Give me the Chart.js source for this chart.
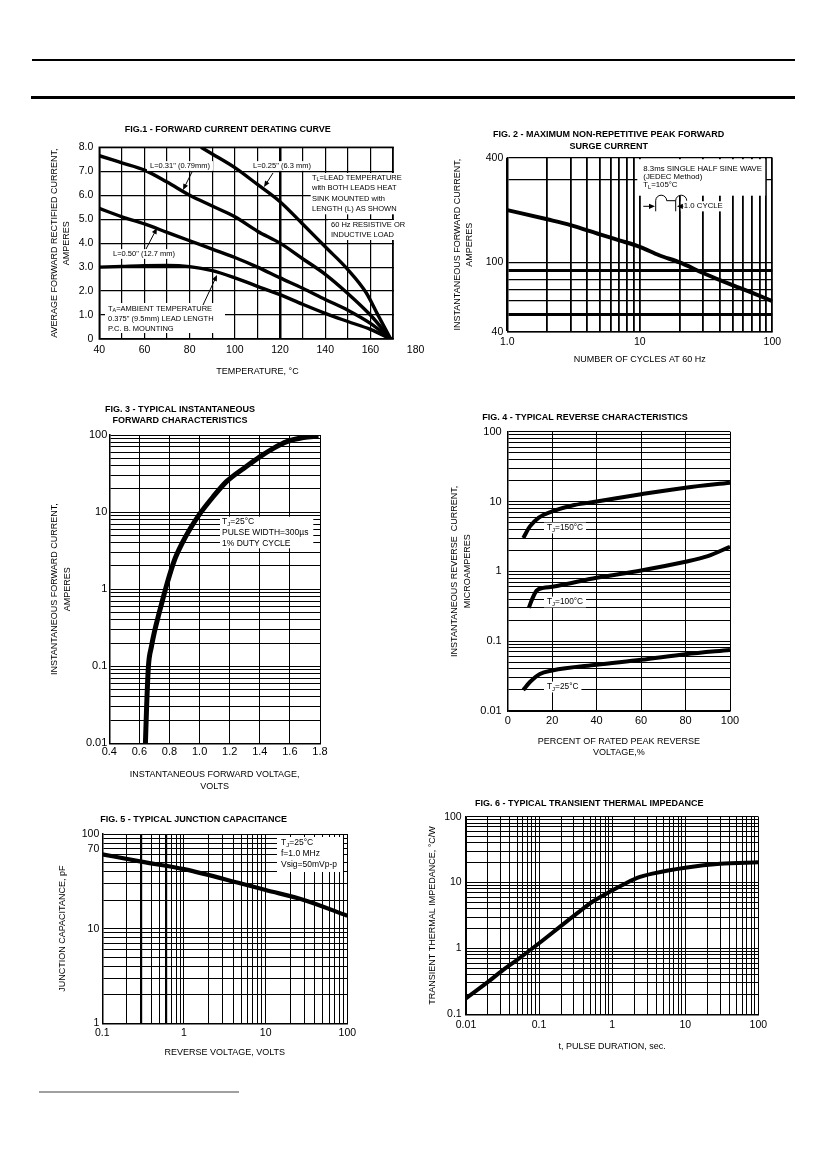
<!DOCTYPE html>
<html><head><meta charset="utf-8">
<script src="https://cdn.jsdelivr.net/npm/chart.js@4.4.1/dist/chart.umd.min.js"></script>
<style>
html,body{margin:0;padding:0;background:#fff;overflow:hidden;}
#page{position:relative;width:826px;height:1169px;overflow:hidden;background:#fff;}
#page canvas{position:absolute;}
.rule{position:absolute;}
</style></head><body>
<div id="page">
<div class="rule" style="left:32px;top:59px;width:763px;height:2px;background:#000"></div>
<div class="rule" style="left:31px;top:96px;width:764px;height:3px;background:#000"></div>
<div class="rule" style="left:39px;top:1091px;width:200px;height:2px;background:#a0a0a0"></div>
</div>
<script>
// ================= DATA =================
// Fig.1 - forward current derating curve
const fig1XTicks = [40, 60, 80, 100, 120, 140, 160, 180];
const fig1XTickLabels = ['40', '60', '80', '100', '120', '140', '160', '180'];
const fig1XGrid = [40, 50, 60, 70, 80, 90, 100, 110, 120, 130, 140, 150, 160, 170, 180];
const fig1YTicks = [0, 1, 2, 3, 4, 5, 6, 7, 8];
const fig1YTickLabels = ['0', '1.0', '2.0', '3.0', '4.0', '5.0', '6.0', '7.0', '8.0'];
const fig1FrameEnd = 170;
const fig1L025Temp = [85, 90, 100, 110, 120, 130, 140, 150, 158, 163, 169];
const fig1L025Amps = [8.0, 7.72, 7.15, 6.45, 5.73, 4.8, 3.85, 2.9, 1.95, 1.06, 0.0];
const fig1L031Temp = [40, 50, 60, 70, 80, 90, 100, 110, 120, 130, 140, 150, 160, 169];
const fig1L031Amps = [7.65, 7.35, 7.05, 6.55, 6.0, 5.55, 5.1, 4.5, 4.0, 3.35, 2.7, 1.9, 1.0, 0.0];
const fig1L050Temp = [40, 50, 60, 70, 80, 90, 100, 110, 120, 130, 140, 150, 160, 169];
const fig1L050Amps = [5.45, 5.1, 4.8, 4.45, 4.1, 3.75, 3.4, 3.0, 2.55, 2.12, 1.65, 1.2, 0.65, 0.0];
const fig1AmbTemp = [40, 50, 60, 70, 80, 90, 100, 110, 120, 130, 140, 150, 160, 169];
const fig1AmbAmps = [3.0, 3.03, 3.06, 3.07, 3.02, 2.85, 2.55, 2.2, 1.85, 1.45, 1.07, 0.73, 0.4, 0.0];

// Fig.2 - maximum non-repetitive peak forward surge current
const fig2XTicks = [1, 10, 100];
const fig2XTickLabels = ['1.0', '10', '100'];
const fig2YTicks = [40, 100, 400];
const fig2YTickLabels = ['40', '100', '400'];
const fig2YGrid = [40, 50, 60, 70, 80, 90, 100, 300, 400];
const fig2Cycles = [1, 2, 3, 5, 7, 10, 14, 20, 30, 50, 70, 100];
const fig2Amps = [200, 177, 164, 145, 134, 123, 110, 100, 87, 74, 67, 60];

// Fig.3 - typical instantaneous forward characteristics
const fig3XTicks = [0.4, 0.6, 0.8, 1.0, 1.2, 1.4, 1.6, 1.8];
const fig3XTickLabels = ['0.4', '0.6', '0.8', '1.0', '1.2', '1.4', '1.6', '1.8'];
const fig3YTicks = [0.01, 0.1, 1, 10, 100];
const fig3YTickLabels = ['0.01', '0.1', '1', '10', '100'];
const fig3Volts = [0.640, 0.648, 0.660, 0.680, 0.700, 0.730, 0.760, 0.790, 0.830, 0.880, 0.940, 1.00, 1.09, 1.18, 1.31, 1.40, 1.49, 1.58, 1.69, 1.79];
const fig3Amps = [0.01, 0.03, 0.1, 0.18, 0.28, 0.48, 0.8, 1.3, 2.3, 3.8, 6.2, 9.4, 15.8, 25, 39, 52, 67, 82, 93, 97];

// Fig.4 - typical reverse characteristics
const fig4XTicks = [0, 20, 40, 60, 80, 100];
const fig4XTickLabels = ['0', '20', '40', '60', '80', '100'];
const fig4YTicks = [0.01, 0.1, 1, 10, 100];
const fig4YTickLabels = ['0.01', '0.1', '1', '10', '100'];
const fig4Pct150 = [7, 10, 14, 20, 30, 40, 60, 80, 100];
const fig4Tj150 = [3.0, 4.4, 5.9, 7.2, 8.9, 10, 12.7, 15.8, 18.6];
const fig4Pct100 = [9.5, 11, 13, 16, 20, 40, 60, 80, 90, 100];
const fig4Tj100 = [0.3, 0.4, 0.53, 0.58, 0.6, 0.81, 1.03, 1.37, 1.65, 2.25];
const fig4Pct25 = [7, 10, 14.5, 20, 40, 60, 80, 100];
const fig4Tj25 = [0.02, 0.026, 0.034, 0.038, 0.046, 0.054, 0.065, 0.075];

// Fig.5 - typical junction capacitance
const fig5XTicks = [0.1, 1, 10, 100];
const fig5XTickLabels = ['0.1', '1', '10', '100'];
const fig5YTicks = [1, 10, 70, 100];
const fig5YTickLabels = ['1', '10', '70', '100'];
const fig5Volts = [0.1, 0.3, 1, 5, 10, 30, 100];
const fig5Cap = [61, 51, 42.5, 30, 25.6, 20, 13.7];

// Fig.6 - typical transient thermal impedance
const fig6XTicks = [0.01, 0.1, 1, 10, 100];
const fig6XTickLabels = ['0.01', '0.1', '1', '10', '100'];
const fig6YTicks = [0.1, 1, 10, 100];
const fig6YTickLabels = ['0.1', '1', '10', '100'];
const fig6Time = [0.01, 0.02, 0.032, 0.05, 0.1, 0.2, 0.33, 0.55, 1, 1.5, 2.2, 3.7, 10, 30, 100];
const fig6Z = [0.175, 0.31, 0.47, 0.67, 1.2, 2.2, 3.4, 5.2, 7.6, 9.6, 11.8, 13.8, 16.8, 19.3, 20.3];

// ================= HELPERS =================
const FONT = "'Liberation Sans', Arial, Helvetica, sans-serif";
const zip = (xs, ys) => xs.map((x, i) => ({x: x, y: ys[i]}));
function logGrid(min, max) {
  const out = [];
  let e = Math.floor(Math.log10(min) + 1e-9);
  for (let guard = 0; guard < 20; guard++, e++) {
    for (let m = 1; m < 10; m++) {
      const v = parseFloat((m * Math.pow(10, e)).toPrecision(6));
      if (v < min * (1 - 1e-9)) continue;
      if (v > max * (1 + 1e-9)) return out;
      out.push(v);
    }
  }
  return out;
}
function labeler(vals, labs) {
  return v => {
    for (let i = 0; i < vals.length; i++) {
      if (Math.abs(v - vals[i]) <= 1e-9 * Math.max(1e-6, Math.abs(vals[i]))) return labs[i];
    }
    return '';
  };
}
function axis(o) {
  const lab = labeler(o.tickVals, o.tickLabels);
  return {
    type: o.type, position: o.pos, min: o.min, max: o.max,
    afterBuildTicks: s => { s.ticks = o.grid.map(v => ({value: v})); },
    afterFit: s => { if (o.pos === 'left') s.width = o.size; else s.height = o.size; },
    ticks: {autoSkip: false, maxRotation: 0, minRotation: 0, padding: o.tickPad, color: '#000',
      font: {family: FONT, size: o.fs}, callback: v => lab(v), major: {enabled: false}},
    grid: {drawTicks: false,
      color: c => (o.gc ? o.gc(c.tick ? c.tick.value : null) : '#000'),
      lineWidth: c => (o.gw ? o.gw(c.tick ? c.tick.value : null) : 1)},
    border: {display: o.border !== false, color: '#000', width: 1.5},
    title: {display: true, text: o.title, color: '#000',
      font: {family: FONT, size: o.titleFs, lineHeight: o.titleLh / o.titleFs},
      padding: {top: o.titlePad, bottom: o.titlePad}}
  };
}
function segs(t) {
  const out = []; let buf = '';
  for (let i = 0; i < t.length; i++) {
    if (t[i] === '_' && i + 1 < t.length) {
      if (buf) { out.push([buf, false]); buf = ''; }
      out.push([t[i + 1], true]); i++;
    } else buf += t[i];
  }
  if (buf) out.push([buf, false]);
  return out;
}
function richWidth(ctx, t, fs) {
  let w = 0;
  for (const [s, sub] of segs(t)) { ctx.font = (sub ? fs * 0.72 : fs) + 'px ' + FONT; w += ctx.measureText(s).width; }
  return w;
}
function drawRich(ctx, t, x, y, fs) {
  for (const [s, sub] of segs(t)) {
    const f = sub ? fs * 0.72 : fs;
    ctx.font = f + 'px ' + FONT;
    ctx.fillText(s, x, y + (sub ? fs * 0.25 : 0));
    x += ctx.measureText(s).width;
  }
}
function notesPlugin(list) {
  return {
    id: 'notes',
    afterDatasetsDraw(chart) {
      const ctx = chart.ctx, a = chart.chartArea;
      const X = d => a.left + d, Y = d => a.top + d;
      let fs = 8, dx = 0;
      ctx.save();
      ctx.textBaseline = 'middle'; ctx.textAlign = 'left';
      for (const it of list) {
        if (it.box) {
          ctx.fillStyle = '#fff';
          ctx.fillRect(X(it.box[0]), Y(it.box[1]), it.box[2] - it.box[0], it.box[3] - it.box[1]);
        } else if (it.text !== undefined) {
          if (it.fs) fs = it.fs;
          if (it.dx !== undefined) dx = it.dx;
          const x = X(dx), y = Y(it.dy);
          if (it.bg) {
            const w = richWidth(ctx, it.text, fs);
            ctx.fillStyle = '#fff';
            ctx.fillRect(x - 3, y - fs * 0.65, w + 6, fs * 1.3);
          }
          ctx.fillStyle = '#000';
          drawRich(ctx, it.text, x, y, fs);
        } else if (it.arrow) {
          const [x0, y0, x1, y1] = it.arrow.map((v, i) => (i % 2 ? Y(v) : X(v)));
          const ang = Math.atan2(y1 - y0, x1 - x0), hl = 6, hw = 2.6;
          ctx.strokeStyle = '#000'; ctx.lineWidth = 1;
          ctx.beginPath(); ctx.moveTo(x0, y0); ctx.lineTo(x1 - Math.cos(ang) * hl * 0.8, y1 - Math.sin(ang) * hl * 0.8); ctx.stroke();
          ctx.fillStyle = '#000';
          ctx.beginPath();
          ctx.moveTo(x1, y1);
          ctx.lineTo(x1 - Math.cos(ang) * hl - Math.sin(ang) * hw, y1 - Math.sin(ang) * hl + Math.cos(ang) * hw);
          ctx.lineTo(x1 - Math.cos(ang) * hl + Math.sin(ang) * hw, y1 - Math.sin(ang) * hl - Math.cos(ang) * hw);
          ctx.closePath(); ctx.fill();
        } else if (it.line) {
          ctx.strokeStyle = '#000'; ctx.lineWidth = 1;
          ctx.beginPath(); ctx.moveTo(X(it.line[0]), Y(it.line[1])); ctx.lineTo(X(it.line[2]), Y(it.line[3])); ctx.stroke();
        } else if (it.hump) {
          const [x0, x1, base, peak] = it.hump;
          ctx.strokeStyle = '#000'; ctx.lineWidth = 1;
          ctx.beginPath();
          ctx.ellipse((X(x0) + X(x1)) / 2, Y(base), (x1 - x0) / 2, base - peak, 0, Math.PI, 2 * Math.PI);
          ctx.stroke();
        }
      }
      ctx.restore();
    }
  };
}
const fig1FramePlugin = {
  id: 'fig1Frame',
  beforeDatasetsDraw(chart) {
    const ctx = chart.ctx, a = chart.chartArea;
    const xr = chart.scales.x.getPixelForValue(fig1FrameEnd);
    ctx.save();
    ctx.fillStyle = '#fff';
    ctx.fillRect(xr + 1, a.top - 2, a.right - xr + 2, a.bottom - a.top + 4);
    ctx.strokeStyle = '#000'; ctx.lineWidth = 1.5;
    ctx.strokeRect(a.left, a.top, xr - a.left, a.bottom - a.top);
    ctx.restore();
  }
};
function buildChart(id, L) {
  const c = document.createElement('canvas');
  const [cl, ct, cr, cb] = L.box;
  c.id = id; c.width = cr - cl; c.height = cb - ct;
  c.style.left = cl + 'px'; c.style.top = ct + 'px';
  document.getElementById('page').appendChild(c);
  return new Chart(c, {
    type: 'line',
    data: {datasets: L.datasets.map(d => ({label: d.label, data: d.data, borderColor: '#000', borderWidth: d.w,
      pointRadius: 0, fill: false, cubicInterpolationMode: 'monotone', borderCapStyle: 'butt', borderJoinStyle: 'round'}))},
    options: {
      responsive: false, animation: false, events: [],
      layout: {padding: {left: 0, top: 0, bottom: 0, right: cr - L.plotR}},
      plugins: {
        legend: {display: false}, tooltip: {enabled: false},
        title: {display: true, text: L.title, color: '#000', fullSize: true,
          font: {family: FONT, size: L.titleFs, weight: 'bold', lineHeight: L.titleLh / L.titleFs},
          padding: {top: L.titleTop, bottom: L.titleBottom}}
      },
      scales: {
        x: axis(Object.assign({}, L.x, {pos: 'bottom', size: cb - L.plotB})),
        y: axis(Object.assign({}, L.y, {pos: 'left', size: L.plotL - cl}))
      }
    },
    plugins: L.plugins || []
  });
}

// ================= CHARTS =================
buildChart('fig1', {
  box: [40, 118, 480, 380], plotL: 99.3, plotB: 339, plotR: 415.6,
  title: ['FIG.1 - FORWARD CURRENT DERATING CURVE'], titleFs: 9, titleLh: 10.8, titleTop: 6.6, titleBottom: 11.9,
  x: {type: 'linear', min: 40, max: 180, grid: fig1XGrid, tickVals: fig1XTicks, tickLabels: fig1XTickLabels, fs: 10.5, tickPad: 5,
    title: 'TEMPERATURE, °C', titleFs: 9, titleLh: 10.8, titlePad: 2.6,
    gw: v => (v === 120 ? 2.5 : 1.2), gc: v => (v === 180 ? 'rgba(0,0,0,0)' : '#000'), border: false},
  y: {type: 'linear', min: 0, max: 8, grid: fig1YTicks, tickVals: fig1YTicks, tickLabels: fig1YTickLabels, fs: 10.5, tickPad: 6,
    title: ['AVERAGE FORWARD RECTIFIED CURRENT,', 'AMPERES'], titleFs: 9, titleLh: 12, titlePad: 9, gw: () => 1.2},
  datasets: [
    {label: 'L=0.25"', data: zip(fig1L025Temp, fig1L025Amps), w: 3.4},
    {label: 'L=0.31"', data: zip(fig1L031Temp, fig1L031Amps), w: 3.4},
    {label: 'L=0.50"', data: zip(fig1L050Temp, fig1L050Amps), w: 3.4},
    {label: 'TA', data: zip(fig1AmbTemp, fig1AmbAmps), w: 3.4}
  ],
  plugins: [fig1FramePlugin, notesPlugin([
    {box: [211.4, 25.7, 308.7, 67]},
    {box: [228.7, 72.7, 303.7, 92.7]},
    {box: [5.7, 155.7, 125.7, 185.7]},
    {text: 'L=0.31" (0.79mm)', dx: 50.7, dy: 18.7, fs: 7.5, bg: true},
    {arrow: [92.7, 24.7, 83.7, 42.7]},
    {text: 'L=0.25" (6.3 mm)', dx: 153.7, dy: 18.7, bg: true},
    {arrow: [173.7, 25.7, 164.7, 39.7]},
    {text: 'T_L=LEAD TEMPERATURE', dx: 212.7, dy: 30.7},
    {text: 'with BOTH LEADS HEAT', dy: 40.7},
    {text: 'SINK MOUNTED with', dy: 51.7},
    {text: 'LENGTH (L) AS SHOWN', dy: 61.7},
    {text: '60 Hz RESISTIVE OR', dx: 231.7, dy: 77.7},
    {text: 'INDUCTIVE LOAD', dy: 87.7},
    {text: 'L=0.50" (12.7 mm)', dx: 13.7, dy: 106.7, bg: true},
    {arrow: [46.7, 101.7, 57.7, 80.7]},
    {text: 'T_A=AMBIENT TEMPERATURE', dx: 8.7, dy: 161.7},
    {text: '0.375" (9.5mm) LEAD LENGTH', dy: 171.7},
    {text: 'P.C. B. MOUNTING', dy: 181.7},
    {arrow: [103.7, 157.7, 117.7, 127.7]}
  ])]
});

buildChart('fig2', {
  box: [445, 125, 839, 368], plotL: 507.3, plotB: 331.7, plotR: 772.3,
  title: ['FIG. 2 - MAXIMUM NON-REPETITIVE PEAK FORWARD', 'SURGE CURRENT'], titleFs: 9, titleLh: 11.7, titleTop: 4.15, titleBottom: 5.15,
  x: {type: 'logarithmic', min: 1, max: 100, grid: logGrid(1, 100), tickVals: fig2XTicks, tickLabels: fig2XTickLabels, fs: 10.5, tickPad: 4,
    title: 'NUMBER OF CYCLES AT 60 Hz', titleFs: 9, titleLh: 10.8, titlePad: 2.6, gw: () => 1.8},
  y: {type: 'logarithmic', min: 40, max: 400, grid: fig2YGrid, tickVals: fig2YTicks, tickLabels: fig2YTickLabels, fs: 10.5, tickPad: 4,
    title: ['INSTANTANEOUS FORWARD CURRENT,', 'AMPERES'], titleFs: 9, titleLh: 12, titlePad: 7,
    gw: v => ((v === 90 || v === 50) ? 3 : 1.3)},
  datasets: [{label: 'IFSM', data: zip(fig2Cycles, fig2Amps), w: 4}],
  plugins: [notesPlugin([
    {box: [130, 1.5, 258, 38]},
    {text: '8.3ms SINGLE HALF SINE WAVE', dx: 136, dy: 11.3, fs: 7.8},
    {text: '(JEDEC Method)', dy: 19.3},
    {text: 'T_L=105°C', dy: 27.6},
    {arrow: [136, 48.6, 147.7, 48.6]},
    {line: [148.4, 43, 148.4, 53.6]},
    {hump: [148.4, 159.4, 43, 37.5]},
    {line: [159.4, 43, 168.4, 43]},
    {hump: [168.4, 179.4, 43, 37.5]},
    {line: [168.4, 43, 168.4, 53.6]},
    {text: '1.0 CYCLE', dx: 176.5, dy: 48.6, bg: true},
    {arrow: [176, 48.6, 169.6, 48.6]}
  ])]
});

buildChart('fig3', {
  box: [40, 398, 400, 796], plotL: 109.3, plotB: 743.3, plotR: 320,
  title: ['FIG. 3 - TYPICAL INSTANTANEOUS', 'FORWARD CHARACTERISTICS'], titleFs: 9, titleLh: 11, titleTop: 6.5, titleBottom: 8.5,
  x: {type: 'linear', min: 0.4, max: 1.8, grid: fig3XTicks, tickVals: fig3XTicks, tickLabels: fig3XTickLabels, fs: 11, tickPad: 2.4,
    title: ['INSTANTANEOUS FORWARD VOLTAGE,', 'VOLTS'], titleFs: 9, titleLh: 12, titlePad: 3},
  y: {type: 'logarithmic', min: 0.01, max: 100, grid: logGrid(0.01, 100), tickVals: fig3YTicks, tickLabels: fig3YTickLabels, fs: 11, tickPad: 2,
    title: ['INSTANTANEOUS FORWARD CURRENT,', 'AMPERES'], titleFs: 9, titleLh: 13, titlePad: 8.5},
  datasets: [{label: 'IF', data: zip(fig3Volts, fig3Amps), w: 5}],
  plugins: [notesPlugin([
    {box: [110.7, 81.7, 204, 113.3]},
    {text: 'T_J=25°C', dx: 112.7, dy: 87, fs: 8.5},
    {text: 'PULSE WIDTH=300µs', dy: 98},
    {text: '1% DUTY CYCLE', dy: 109}
  ])]
});

buildChart('fig4', {
  box: [440, 405, 806, 761], plotL: 507.7, plotB: 711, plotR: 730,
  title: ['FIG. 4 - TYPICAL REVERSE CHARACTERISTICS'], titleFs: 9, titleLh: 10.8, titleTop: 7.3, titleBottom: 8.6,
  x: {type: 'linear', min: 0, max: 100, grid: fig4XTicks, tickVals: fig4XTicks, tickLabels: fig4XTickLabels, fs: 11, tickPad: 3.7,
    title: ['PERCENT OF RATED PEAK REVERSE', 'VOLTAGE,%'], titleFs: 9, titleLh: 11, titlePad: 2.5},
  y: {type: 'logarithmic', min: 0.01, max: 100, grid: logGrid(0.01, 100), tickVals: fig4YTicks, tickLabels: fig4YTickLabels, fs: 11, tickPad: 6,
    title: ['INSTANTANEOUS REVERSE  CURRENT,', 'MICROAMPERES'], titleFs: 9, titleLh: 13, titlePad: 8.5},
  datasets: [
    {label: 'TJ=150°C', data: zip(fig4Pct150, fig4Tj150), w: 4},
    {label: 'TJ=100°C', data: zip(fig4Pct100, fig4Tj100), w: 4},
    {label: 'TJ=25°C', data: zip(fig4Pct25, fig4Tj25), w: 4}
  ],
  plugins: [notesPlugin([
    {text: 'T_J=150°C', dx: 39.3, dy: 96.3, fs: 8.3, bg: true},
    {text: 'T_J=100°C', dy: 170.3, bg: true},
    {text: 'T_J=25°C', dy: 255.3, bg: true}
  ])]
});

buildChart('fig5', {
  box: [40, 808, 405, 1061], plotL: 102.3, plotB: 1023.3, plotR: 347.3,
  title: ['FIG. 5 - TYPICAL JUNCTION CAPACITANCE'], titleFs: 9, titleLh: 10.8, titleTop: 6.6, titleBottom: 8.6,
  x: {type: 'logarithmic', min: 0.1, max: 100, grid: logGrid(0.1, 100), tickVals: fig5XTicks, tickLabels: fig5XTickLabels, fs: 10.5, tickPad: 3.1,
    title: 'REVERSE VOLTAGE, VOLTS', titleFs: 9, titleLh: 10.8, titlePad: 2.6,
    gw: v => ((Math.abs(v - 0.3) < 1e-9 || Math.abs(v - 0.6) < 1e-9) ? 2.2 : 1)},
  y: {type: 'logarithmic', min: 1, max: 100, grid: logGrid(1, 100), tickVals: fig5YTicks, tickLabels: fig5YTickLabels, fs: 10.5, tickPad: 3,
    title: 'JUNCTION CAPACITANCE, pF', titleFs: 9, titleLh: 10.8, titlePad: 17.6},
  datasets: [{label: 'CJ', data: zip(fig5Volts, fig5Cap), w: 4.2}],
  plugins: [notesPlugin([
    {box: [174.7, 3, 240.7, 38]},
    {text: 'T_J=25°C', dx: 178.7, dy: 9, fs: 8.5},
    {text: 'f=1.0 MHz', dy: 20},
    {text: 'Vsig=50mVp-p', dy: 31}
  ])]
});

buildChart('fig6', {
  box: [420, 792, 804, 1055], plotL: 466, plotB: 1014.3, plotR: 758.3,
  title: ['FIG. 6 - TYPICAL TRANSIENT THERMAL IMPEDANCE'], titleFs: 9, titleLh: 10.8, titleTop: 6.6, titleBottom: 7.3,
  x: {type: 'logarithmic', min: 0.01, max: 100, grid: logGrid(0.01, 100), tickVals: fig6XTicks, tickLabels: fig6XTickLabels, fs: 10.5, tickPad: 4.4,
    title: 't, PULSE DURATION, sec.', titleFs: 9, titleLh: 10.8, titlePad: 2.9},
  y: {type: 'logarithmic', min: 0.1, max: 100, grid: logGrid(0.1, 100), tickVals: fig6YTicks, tickLabels: fig6YTickLabels, fs: 10.5, tickPad: 4.3,
    title: 'TRANSIENT THERMAL IMPEDANCE, °C/W', titleFs: 9, titleLh: 10.8, titlePad: 7.6},
  datasets: [{label: 'ZthJA', data: zip(fig6Time, fig6Z), w: 4}]
});
</script>
</body></html>
